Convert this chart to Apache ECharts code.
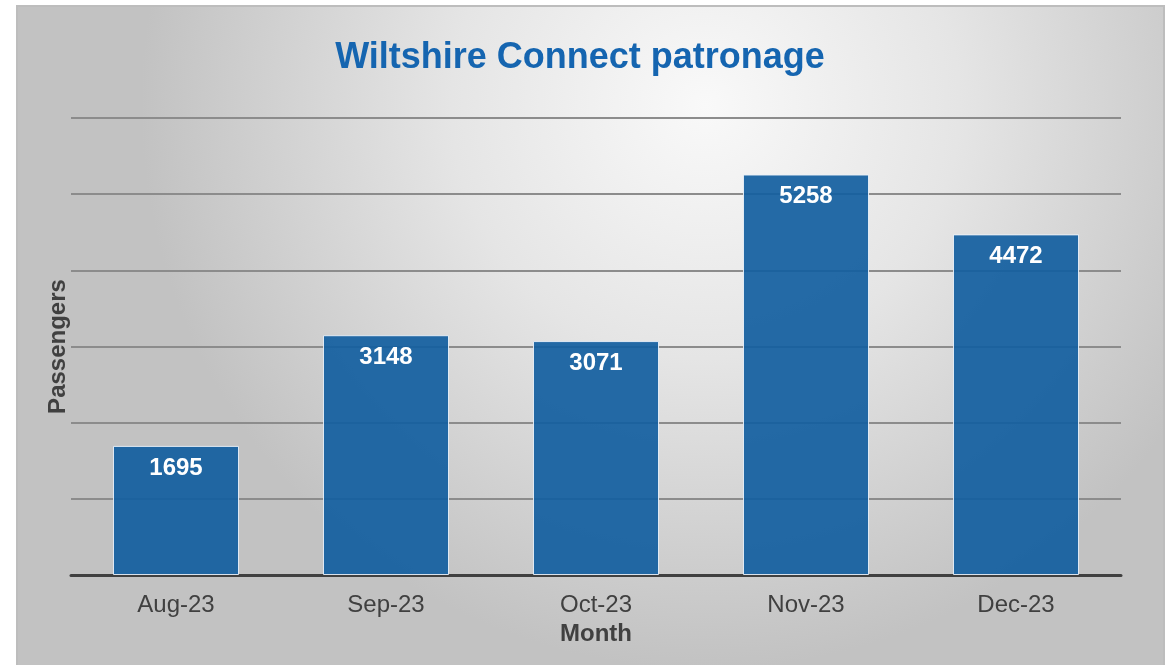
<!DOCTYPE html>
<html>
<head>
<meta charset="utf-8">
<script src="https://cdn.jsdelivr.net/npm/echarts@6/dist/echarts.min.js"></script>
<style>
html, body { margin: 0; padding: 0; background: #fff; }
#main { width: 1173px; height: 665px; }
</style>
</head>
<body>
<div id="main"></div>
<script>
var months = ['Aug-23', 'Sep-23', 'Oct-23', 'Nov-23', 'Dec-23'];
var passengers = [1695, 3148, 3071, 5258, 4472];

function initChart() {
    var chart = echarts.init(document.getElementById('main'));
    var option = {
        backgroundColor: '#ffffff',
        graphic: [{
            type: 'rect',
            z: -10,
            shape: { x: 17, y: 6, width: 1147, height: 662 },
            style: {
                fill: new echarts.graphic.RadialGradient(0.6, 0.15, 0.85, [
                    { offset: 0, color: '#f9f9f9' },
                    { offset: 0.45, color: '#e5e5e5' },
                    { offset: 1, color: '#c2c2c2' }
                ]),
                stroke: '#bdbdbd',
                lineWidth: 2
            }
        }],
        title: {
            text: 'Wiltshire Connect patronage',
            left: 575,
            textAlign: 'center',
            top: 35,
            textStyle: {
                fontFamily: 'Liberation Sans',
                fontSize: 36,
                fontWeight: 'bold',
                color: '#1565b0'
            }
        },
        grid: {
            left: 71,
            right: 52,
            top: 118,
            bottom: 90
        },
        xAxis: {
            type: 'category',
            data: months,
            name: 'Month',
            nameLocation: 'middle',
            nameGap: 46,
            nameTextStyle: {
                fontFamily: 'Liberation Sans',
                fontSize: 24,
                fontWeight: 'bold',
                color: '#404040'
            },
            axisLine: { lineStyle: { color: '#404040', width: 3 } },
            axisTick: { show: false },
            axisLabel: {
                margin: 18,
                fontFamily: 'Liberation Sans',
                fontSize: 24,
                color: '#404040'
            }
        },
        yAxis: {
            type: 'value',
            min: 0,
            max: 6000,
            interval: 1000,
            name: 'Passengers',
            nameLocation: 'middle',
            nameGap: 1,
            nameTextStyle: {
                fontFamily: 'Liberation Sans',
                fontSize: 24,
                fontWeight: 'bold',
                color: '#404040'
            },
            axisLine: { show: false },
            axisTick: { show: false },
            axisLabel: { show: false },
            splitLine: { lineStyle: { color: '#8c8c8c', width: 2 } }
        },
        series: [{
            name: 'Passengers',
            type: 'bar',
            data: passengers,
            barWidth: '60%',
            itemStyle: {
                color: 'rgba(18, 94, 160, 0.92)',
                borderColor: 'rgba(235, 242, 250, 0.9)',
                borderWidth: 1
            },
            label: {
                show: true,
                position: 'insideTop',
                distance: 10,
                fontFamily: 'Liberation Sans',
                fontSize: 24,
                fontWeight: 'bold',
                color: '#ffffff'
            }
        }]
    };
    chart.setOption(option);
    return chart;
}

var chart = initChart();
</script>
</body>
</html>
